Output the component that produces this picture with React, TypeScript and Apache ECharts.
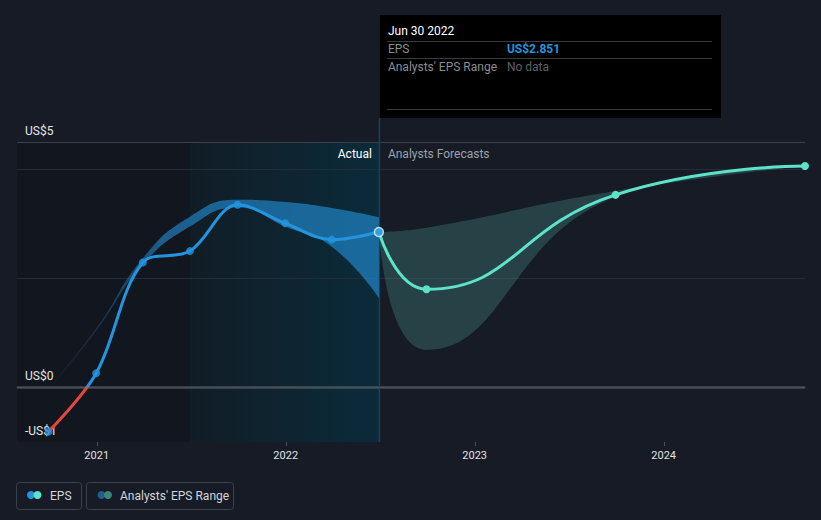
import { useEffect, useRef } from "react";
import * as echarts from "echarts";

// ---- data ----
const pastDates = ["2020-09-30", "2020-12-31", "2021-03-31", "2021-06-30", "2021-09-30", "2021-12-31", "2022-03-31", "2022-06-30"];
const pastEps = [-0.81, 0.26, 2.29, 2.5, 3.35, 3.01, 2.71, 2.851];
const pastRangeLow = [-0.05, 1.04, 2.25, 2.95, 3.3, 2.95, 2.58, 1.64];
const pastRangeHigh = [0.0, 1.08, 2.37, 3.13, 3.44, 3.4, 3.29, 3.12];

const forecastDates = ["2022-06-30", "2022-09-30", "2023-09-30", "2024-09-30"];
const forecastEps = [2.851, 1.8, 3.53, 4.06];
const forecastRangeLow = [2.851, 0.69, 3.49, 4.06];
const forecastRangeHigh = [2.851, 2.93, 3.6, 4.06];

const xTickYears = [2021, 2022, 2023, 2024];
const yTickLabels: Record<string, string> = { "-1": "-US$1", "0": "US$0", "4.5": "US$5" };
const yMin = -1;
const yMax = 4.5;
const xMin = "2020-07-31";
const xMax = "2024-09-30";
const shadeStart = "2021-06-30";
const nowDate = "2022-06-30";
const tooltipDate = "Jun 30 2022";
const legendLabels = ["EPS", "Analysts' EPS Range"];

const BLUE = "#2394df";
const TEAL = "#5de3c9";
const RED = "#e5473f";
const BG = "#161b26";
const FONT = "Roboto, 'Noto Sans', sans-serif";

const toTime = (s: string) => new Date(s + "T00:00:00").getTime();
const pairs = (dates: string[], vals: number[]) => dates.map((d, i) => [d, vals[i]]);
const diffs = (lo: number[], hi: number[]) => hi.map((h, i) => +(h - lo[i]).toFixed(4));

function buildOption() {
  return {
    backgroundColor: BG,
    animation: false,
    textStyle: { fontFamily: FONT },
    grid: { left: 17, right: 16, top: 142, bottom: 78, containLabel: false },
    xAxis: {
      type: "time",
      min: xMin,
      max: xMax,
      axisLine: { show: true, lineStyle: { color: "#4a505a", width: 1 } },
      axisTick: { show: false },
      splitLine: { show: false },
      axisLabel: {
        color: "#e2e2e2",
        fontSize: 11,
        margin: 8,
        formatter: (v: number) => {
          const d = new Date(v);
          return d.getMonth() === 0 && d.getDate() === 1 && xTickYears.includes(d.getFullYear())
            ? String(d.getFullYear())
            : "";
        },
      },
    },
    yAxis: {
      type: "value",
      min: yMin,
      max: yMax,
      interval: 0.5,
      axisLine: { show: false },
      axisTick: { show: false },
      splitLine: { show: false },
      axisLabel: {
        inside: true,
        margin: 8,
        color: "#e6e6e6",
        fontSize: 12,
        verticalAlign: "bottom",
        padding: [0, 0, 5, 0],
        formatter: (v: number) => yTickLabels[String(v)] ?? "",
      },
    },
    series: [
      {
        name: "pastLow",
        type: "line",
        stack: "past",
        stackStrategy: "all",
        smooth: 0.5,
        symbol: "none",
        lineStyle: { opacity: 0 },
        silent: true,
        data: pairs(pastDates, pastRangeLow),
      },
      {
        name: "pastRange",
        type: "line",
        stack: "past",
        stackStrategy: "all",
        smooth: 0.5,
        symbol: "none",
        lineStyle: { opacity: 0 },
        silent: true,
        areaStyle: {
          opacity: 1,
          color: {
            type: "linear",
            x: 0,
            y: 0,
            x2: 1,
            y2: 0,
            colorStops: [
              { offset: 0, color: "rgba(35,148,223,0)" },
              { offset: 0.35, color: "rgba(35,148,223,0.58)" },
              { offset: 1, color: "rgba(35,148,223,0.6)" },
            ],
          },
        },
        data: pairs(pastDates, diffs(pastRangeLow, pastRangeHigh)),
      },
      {
        name: "fcLow",
        type: "line",
        stack: "fc",
        stackStrategy: "all",
        smooth: 0.5,
        symbol: "none",
        lineStyle: { opacity: 0 },
        silent: true,
        data: pairs(forecastDates, forecastRangeLow),
      },
      {
        name: "fcRange",
        type: "line",
        stack: "fc",
        stackStrategy: "all",
        smooth: 0.5,
        symbol: "none",
        lineStyle: { opacity: 0 },
        silent: true,
        areaStyle: { opacity: 1, color: "rgba(80,160,150,0.3)" },
        data: pairs(forecastDates, diffs(forecastRangeLow, forecastRangeHigh)),
      },
      {
        name: "EPS",
        type: "line",
        smooth: 0.35,
        showSymbol: false,
        symbol: "none",
        lineStyle: { width: 3, color: BLUE },
        data: pairs(pastDates, pastEps),
      },
      {
        name: "EPS forecast",
        type: "line",
        smooth: 0.5,
        symbol: "circle",
        symbolSize: 8,
        showSymbol: true,
        lineStyle: { width: 3, color: TEAL },
        itemStyle: { color: TEAL },
        data: pairs(forecastDates, forecastEps),
      },
      {
        name: "EPS points",
        type: "scatter",
        symbolSize: 8,
        itemStyle: { color: BLUE },
        data: pairs(pastDates.slice(0, -1), pastEps.slice(0, -1)),
        z: 4,
      },
      {
        name: "EPS now",
        type: "scatter",
        symbolSize: 9,
        itemStyle: { color: BLUE, borderColor: "#eaf5ff", borderWidth: 1.5 },
        data: pairs(pastDates.slice(-1), pastEps.slice(-1)),
        z: 5,
      },
    ],
  };
}

function txt(x: number, y: number, text: string, fill: string, opts: any = {}) {
  return {
    type: "text",
    x,
    y,
    z: 20,
    silent: true,
    style: {
      text,
      fill,
      fontSize: opts.fontSize ?? 12,
      fontFamily: FONT,
      fontWeight: opts.fontWeight ?? "normal",
      textAlign: opts.align ?? "left",
      align: opts.align ?? "left",
      textVerticalAlign: "middle",
      verticalAlign: "middle",
    },
  };
}

export default function App() {
  const ref = useRef<HTMLDivElement>(null);
  useEffect(() => {
    document.body.style.margin = "0";
    document.body.style.background = BG;
    const chart = echarts.init(ref.current!, null, { renderer: "svg" });
    chart.setOption(buildOption() as any);

    const px = (d: string, v: number) => chart.convertToPixel({ gridIndex: 0 }, [toTime(d), v]) as number[];
    const pNow = px(nowDate, yMax);
    const pBottom = px(nowDate, yMin);
    const nx = pNow[0];
    const gTop = pNow[1];
    const gBottom = pBottom[1];
    const gLeft = px(xMin, 0)[0];
    const gRight = px(xMax, 0)[0];
    const shadeX = px(shadeStart, 0)[0];
    const yPix = (v: number) => px(nowDate, v)[1];
    const zeroY = yPix(0);
    const boxTop = 15;
    const boxBottom = 118;
    const lastEps = pastEps[pastEps.length - 1];

    const sep = (y: number) => ({
      type: "line",
      z: 20,
      silent: true,
      shape: { x1: nx + 8, y1: y, x2: nx + 333, y2: y },
      style: { stroke: "#3b3b3b", lineWidth: 1 },
    });
    const hline = (v: number, color: string, w: number) => ({
      type: "line",
      z: -5,
      silent: true,
      shape: { x1: gLeft, y1: Math.round(yPix(v)) + 0.5, x2: gRight, y2: Math.round(yPix(v)) + 0.5 },
      style: { stroke: color, lineWidth: w },
    });
    const yearTicks = xTickYears.map((yr) => {
      const x = Math.round(px(`${yr}-01-01`, yMin)[0]) + 0.5;
      return {
        type: "line",
        z: 5,
        silent: true,
        shape: { x1: x, y1: gBottom, x2: x, y2: gBottom + 4 },
        style: { stroke: "#4a505a", lineWidth: 1 },
      };
    });

    const graphic: any[] = [
      // background regions
      {
        type: "rect",
        z: -10,
        silent: true,
        shape: { x: gLeft, y: gTop, width: shadeX - gLeft, height: gBottom - gTop },
        style: { fill: "#12161e" },
      },
      {
        type: "rect",
        z: -10,
        silent: true,
        shape: { x: shadeX, y: gTop, width: nx - shadeX, height: gBottom - gTop },
        style: {
          fill: new echarts.graphic.LinearGradient(0, 0, 1, 0, [
            { offset: 0, color: "#111d26" },
            { offset: 1, color: "#0b2b3a" },
          ]),
        },
      },
      hline(4.5, "#3a404a", 1),
      hline(4, "#262c36", 1),
      hline(2, "#262c36", 1),
      hline(0, "#a3a7ad", 1.5),
      ...yearTicks,
      // now vertical line
      {
        type: "line",
        z: -4,
        silent: true,
        shape: { x1: nx + 0.5, y1: boxBottom, x2: nx + 0.5, y2: gBottom },
        style: { stroke: "#154454", lineWidth: 1.5 },
      },
      // tooltip box
      {
        type: "rect",
        z: 19,
        silent: true,
        shape: { x: nx + 1, y: boxTop, width: 341, height: boxBottom - boxTop },
        style: { fill: "#000000" },
      },
      txt(nx + 9, 31, tooltipDate, "#ffffff"),
      sep(41.5),
      txt(nx + 9, 49, legendLabels[0], "#8a8d92"),
      txt(nx + 128, 49, `US$${lastEps.toFixed(3)}`, BLUE, { fontWeight: "bold" }),
      sep(58.5),
      txt(nx + 9, 66.5, legendLabels[1], "#8a8d92"),
      txt(nx + 128, 66.5, "No data", "#5f6266"),
      sep(109.5),
      // region labels
      txt(nx - 7, gTop + 12, "Actual", "#ffffff", { align: "right" }),
      txt(nx + 9, gTop + 12, "Analysts Forecasts", "#9ca1a8"),
      // legend
      {
        type: "rect",
        z: 20,
        silent: true,
        shape: { x: 16.5, y: 482.5, width: 65, height: 27, r: 3 },
        style: { fill: "transparent", stroke: "#3a414d", lineWidth: 1 },
      },
      { type: "circle", z: 21, silent: true, shape: { cx: 31, cy: 495, r: 4 }, style: { fill: BLUE } },
      { type: "circle", z: 22, silent: true, shape: { cx: 37.5, cy: 495, r: 4 }, style: { fill: TEAL } },
      txt(50, 495.5, legendLabels[0], "#d4d6d9"),
      {
        type: "rect",
        z: 20,
        silent: true,
        shape: { x: 86.5, y: 482.5, width: 147, height: 27, r: 3 },
        style: { fill: "transparent", stroke: "#3a414d", lineWidth: 1 },
      },
      { type: "circle", z: 21, silent: true, shape: { cx: 101.5, cy: 495, r: 4 }, style: { fill: "#1d5e8d" } },
      { type: "circle", z: 22, silent: true, shape: { cx: 108, cy: 495, r: 4 }, style: { fill: "#3b857d" } },
      txt(120, 495.5, legendLabels[1], "#d4d6d9"),
    ];

    chart.setOption({
      graphic,
      series: [
        {},
        {},
        {},
        {},
        {
          lineStyle: {
            color: new echarts.graphic.LinearGradient(
              0,
              zeroY - 1,
              0,
              zeroY + 1,
              [
                { offset: 0, color: BLUE },
                { offset: 0.5, color: BLUE },
                { offset: 0.5, color: RED },
                { offset: 1, color: RED },
              ],
              true
            ),
          },
        },
      ],
    });

    return () => chart.dispose();
  }, []);
  return <div ref={ref} style={{ position: "absolute", left: 0, top: 0, width: 821, height: 520 }} />;
}
